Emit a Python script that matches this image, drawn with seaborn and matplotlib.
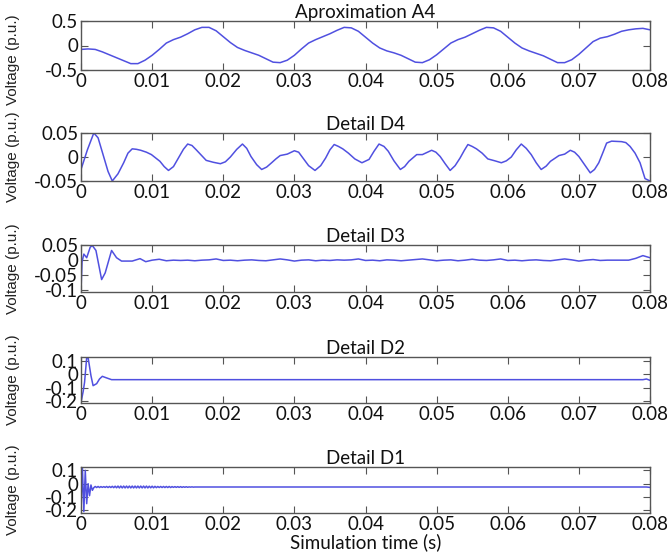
import numpy as np
import matplotlib
matplotlib.use("Agg")
import matplotlib.pyplot as plt
import seaborn as sns

sns.set_style("white")
plt.rcParams['font.family'] = ['Lato', 'DejaVu Sans']

# ---------------- data ----------------
titles = ["Aproximation A4", "Detail D4", "Detail D3", "Detail D2", "Detail D1"]
x_ticks = [0, 0.01, 0.02, 0.03, 0.04, 0.05, 0.06, 0.07, 0.08]
x_tick_labels = ["0", "0.01", "0.02", "0.03", "0.04", "0.05", "0.06", "0.07", "0.08"]

y_ticks = [[-0.5, 0, 0.5], [-0.05, 0, 0.05], [-0.1, -0.05, 0, 0.05],
           [-0.2, -0.1, 0, 0.1], [-0.2, -0.1, 0, 0.1]]
y_tick_labels = [["-0.5", "0", "0.5"], ["-0.05", "0", "0.05"], ["-0.1", "-0.05", "0", "0.05"],
                 ["-0.2", "-0.1", "0", "0.1"], ["-0.2", "-0.1", "0", "0.1"]]
y_limits = [(-0.5, 0.5), (-0.05, 0.05), (-0.105, 0.05), (-0.215, 0.13), (-0.22, 0.125)]

# A4 approximation, sampled every 1 ms
a4_t = np.round(np.arange(0, 0.0805, 0.001), 4)
a4_v = [-0.08, -0.07, -0.08, -0.13, -0.19, -0.25, -0.31, -0.37, -0.37, -0.30,
        -0.20, -0.08, 0.05, 0.12, 0.17, 0.24, 0.32, 0.37, 0.37, 0.30,
        0.18, 0.06, -0.04, -0.10, -0.15, -0.20, -0.27, -0.34, -0.35, -0.30,
        -0.20, -0.07, 0.05, 0.12, 0.18, 0.24, 0.31, 0.37, 0.36, 0.29,
        0.17, 0.05, -0.05, -0.11, -0.15, -0.20, -0.27, -0.34, -0.35, -0.29,
        -0.19, -0.07, 0.05, 0.12, 0.17, 0.24, 0.31, 0.37, 0.36, 0.29,
        0.17, 0.05, -0.05, -0.11, -0.16, -0.21, -0.28, -0.35, -0.35, -0.29,
        -0.18, -0.05, 0.08, 0.15, 0.18, 0.23, 0.29, 0.32, 0.34, 0.35,
        0.32]

# D4 detail
d4_t = [0, 0.0009, 0.0018, 0.0024, 0.0031, 0.0038, 0.0044, 0.0052, 0.0060, 0.0066,
        0.0072, 0.0078, 0.0084, 0.0092, 0.0099, 0.0105, 0.0111, 0.0117, 0.0123, 0.0130,
        0.0137, 0.0144, 0.0150, 0.0156, 0.0162, 0.0169, 0.0176, 0.0186, 0.0196, 0.0203,
        0.0210, 0.0219, 0.0227, 0.0233, 0.0239, 0.0247, 0.0254, 0.0261, 0.0268, 0.0274,
        0.0280, 0.0290, 0.0300, 0.0306, 0.0312, 0.0320, 0.0329, 0.0337, 0.0344, 0.0350,
        0.0356, 0.0362, 0.0368, 0.0376, 0.0385, 0.0395, 0.0405, 0.0412, 0.0419, 0.0426,
        0.0432, 0.0440, 0.0449, 0.0455, 0.0461, 0.0472, 0.0480, 0.0493, 0.0499, 0.0505,
        0.0512, 0.0519, 0.0526, 0.0533, 0.0539, 0.0544, 0.0550, 0.0556, 0.0564, 0.0572,
        0.0582, 0.0591, 0.0598, 0.0605, 0.0612, 0.0619, 0.0626, 0.0633, 0.0640, 0.0647,
        0.0654, 0.0660, 0.0672, 0.0680, 0.0688, 0.0694, 0.0700, 0.0708, 0.0716, 0.0722,
        0.0728, 0.0734, 0.0739, 0.0746, 0.0760, 0.0766, 0.0772, 0.0779, 0.0786, 0.0793,
        0.0800]
d4_v = [-0.026, 0.015, 0.050, 0.040, 0.005, -0.030, -0.050, -0.035, -0.012, 0.008,
        0.017, 0.016, 0.014, 0.010, 0.005, -0.002, -0.009, -0.020, -0.028, -0.020,
        -0.002, 0.016, 0.027, 0.024, 0.015, 0.004, -0.007, -0.011, -0.014, -0.010,
        0.000, 0.016, 0.027, 0.018, 0.001, -0.016, -0.026, -0.021, -0.012, -0.004,
        0.003, 0.006, 0.013, 0.010, -0.002, -0.018, -0.028, -0.018, -0.002, 0.015,
        0.026, 0.022, 0.017, 0.008, -0.004, -0.012, -0.005, 0.012, 0.027, 0.022,
        0.012, -0.008, -0.026, -0.020, -0.009, 0.005, 0.005, 0.014, 0.010, 0.001,
        -0.014, -0.028, -0.018, -0.002, 0.014, 0.026, 0.022, 0.017, 0.008, -0.004,
        -0.008, -0.012, -0.008, 0.000, 0.015, 0.027, 0.018, 0.005, -0.012, -0.026,
        -0.019, -0.009, 0.003, 0.006, 0.014, 0.010, 0.001, -0.016, -0.033, -0.026,
        -0.012, 0.010, 0.029, 0.033, 0.032, 0.030, 0.022, 0.008, -0.012, -0.045,
        -0.050]

# D3 detail: transient then steady part sampled every 1 ms
d3_start_t = [0, 0.00015, 0.0004, 0.0008, 0.0013, 0.0016, 0.0021, 0.0029, 0.0034, 0.0043,
              0.0050, 0.0057, 0.0072, 0.0083, 0.0091]
d3_start_v = [-0.1, -0.005, 0.02, 0.008, 0.043, 0.048, 0.032, -0.064, -0.042, 0.032,
              0.008, -0.003, -0.003, 0.005, -0.005]
d3_steady_t = np.round(np.arange(0.010, 0.0805, 0.001), 4)
d3_steady_v = [0.000, 0.003, -0.002, 0.000, -0.001, 0.000, -0.002, 0.000, 0.001, 0.004,
               -0.001, 0.000, -0.002, 0.000, 0.001, -0.001, -0.002, 0.001, 0.004, 0.001,
               -0.003, 0.000, 0.001, -0.002, 0.000, -0.001, 0.001, 0.000, 0.001, 0.004,
               -0.001, 0.000, -0.002, 0.001, 0.000, -0.002, 0.000, 0.002, 0.004, 0.001,
               -0.002, 0.000, 0.001, -0.002, 0.000, 0.003, 0.000, -0.001, 0.001, 0.004,
               -0.001, 0.000, -0.002, 0.000, 0.001, -0.001, -0.002, 0.001, 0.004, 0.001,
               -0.003, 0.000, 0.002, -0.001, 0.000, 0.000, 0.000, 0.000, 0.006, 0.015,
               0.008]

# D2 detail
d2_t = [0, 0.0003, 0.0005, 0.0008, 0.0010, 0.0014, 0.0017, 0.0022, 0.0026, 0.0030,
        0.0035, 0.0043, 0.0050, 0.0790, 0.0795, 0.0800]
d2_v = [-0.21, -0.13, -0.06, 0.125, 0.125, -0.01, -0.085, -0.07, -0.035, -0.015,
        -0.025, -0.04, -0.04, -0.04, -0.035, -0.045]

# D1 detail: transient, high-frequency ripple (0.2 ms grid), flat tail
d1_start_t = [0, 0.0002, 0.0004, 0.0006, 0.0008, 0.0010, 0.0012, 0.0014, 0.0016, 0.0018]
d1_start_v = [-0.21, 0.12, -0.21, 0.10, -0.15, 0.0, -0.09, -0.01, -0.05, -0.03]
d1_ripple_t = np.round(np.arange(0.0020, 0.01601, 0.0002), 4)
d1_ripple_v = [-0.021, -0.029, -0.021, -0.029, -0.022, -0.028, -0.022, -0.028, -0.021, -0.029,
               -0.021, -0.029, -0.020, -0.030, -0.019, -0.031, -0.018, -0.032, -0.018, -0.032,
               -0.018, -0.032, -0.018, -0.032, -0.018, -0.032, -0.018, -0.032, -0.018, -0.032,
               -0.018, -0.032, -0.018, -0.032, -0.018, -0.032, -0.018, -0.032, -0.019, -0.031,
               -0.019, -0.031, -0.020, -0.030, -0.021, -0.029, -0.021, -0.029, -0.021, -0.029,
               -0.021, -0.029, -0.021, -0.029, -0.022, -0.028, -0.022, -0.028, -0.022, -0.028,
               -0.022, -0.028, -0.023, -0.027, -0.023, -0.027, -0.024, -0.026, -0.024, -0.026,
               -0.025]
d1_tail_t = [0.020, 0.030, 0.040, 0.050, 0.060, 0.070, 0.0795, 0.080]
d1_tail_v = [-0.025, -0.025, -0.025, -0.025, -0.025, -0.025, -0.025, -0.028]

series_t = [list(a4_t), d4_t, d3_start_t + list(d3_steady_t), d2_t,
            d1_start_t + list(d1_ripple_t) + d1_tail_t]
series_v = [a4_v, d4_v, d3_start_v + d3_steady_v, d2_v,
            d1_start_v + d1_ripple_v + d1_tail_v]

# ---------------- layout ----------------
W, H = 667, 554
fig = plt.figure(figsize=(W / 100, H / 100), dpi=100)
left_px, right_px = 81, 650
panels_px = [(21, 70), (133, 181), (245, 292), (357, 403), (467, 513)]
ylabel_ypos = [0.22, 0.5, 0.5, 0.5, 0.5]

line_color = "#5050e0"
frame_color = "#555555"

for i, (top, bot) in enumerate(panels_px):
    ax = fig.add_axes([left_px / W, 1 - bot / H, (right_px - left_px) / W, (bot - top) / H])
    sns.lineplot(x=series_t[i], y=series_v[i], ax=ax, color=line_color,
                 linewidth=1.1, sort=False, estimator=None, errorbar=None)
    ax.set_xlim(0, 0.08)
    ax.set_ylim(*y_limits[i])
    ax.set_xticks(x_ticks)
    ax.set_xticklabels(x_tick_labels, fontsize=13.5)
    ax.set_yticks(y_ticks[i])
    ax.set_yticklabels(y_tick_labels[i], fontsize=13.5)
    ax.tick_params(direction="in", length=5, width=0.8, color=frame_color,
                   top=True, right=True, bottom=True, left=True, pad=2,
                   labelcolor="#111111")
    for s in ax.spines.values():
        s.set_visible(True)
        s.set_color(frame_color)
        s.set_linewidth(1.0)
    ax.set_title(titles[i], fontsize=13.5, pad=2, color="#111111")
    ax.set_ylabel("Voltage (p.u.)", fontsize=11, family=["Liberation Sans", "DejaVu Sans"],
                  color="#222222")
    ax.yaxis.set_label_coords(-0.107, ylabel_ypos[i])
    if i == 4:
        ax.set_xlabel("Simulation time (s)", fontsize=13.5, labelpad=0, color="#111111")

fig.savefig("out.png", dpi=100)
